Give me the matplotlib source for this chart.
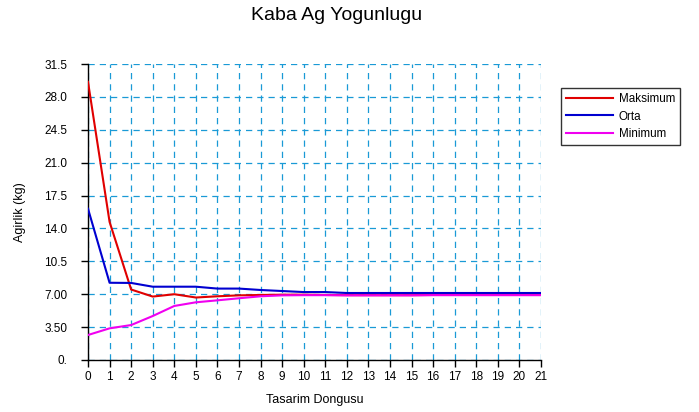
import matplotlib
matplotlib.use("Agg")
import matplotlib.pyplot as plt

cycles = list(range(22))
maksimum = [29.6, 14.7, 7.5, 6.75, 7.0, 6.65, 6.78, 6.88, 6.92, 6.95, 6.95, 6.92, 6.9, 6.9, 6.9, 6.9, 6.92, 6.92, 6.92, 6.92, 6.92, 6.92]
orta = [16.1, 8.22, 8.2, 7.8, 7.8, 7.8, 7.6, 7.6, 7.45, 7.34, 7.23, 7.23, 7.13, 7.13, 7.13, 7.13, 7.13, 7.13, 7.13, 7.13, 7.13, 7.13]
minimum = [2.66, 3.37, 3.72, 4.68, 5.75, 6.14, 6.35, 6.57, 6.78, 6.88, 6.9, 6.9, 6.88, 6.88, 6.88, 6.88, 6.9, 6.9, 6.9, 6.9, 6.9, 6.9]
yticks = [0, 3.5, 7.0, 10.5, 14.0, 17.5, 21.0, 24.5, 28.0, 31.5]
ytick_labels = ["0.", "3.50", "7.00", "10.5", "14.0", "17.5", "21.0", "24.5", "28.0", "31.5"]

plt.rcParams['font.family'] = ['Liberation Sans', 'DejaVu Sans']
W, H = 699, 412
fig = plt.figure(figsize=(W/100, H/100), dpi=100)
ax = fig.add_axes([88/W, 1-360/H, (541-88)/W, (360-64)/H])

ax.plot(cycles, maksimum, color='#e00000', lw=1.5, label='Maksimum', zorder=3)
ax.plot(cycles, orta, color='#0000d0', lw=1.5, label='Orta', zorder=3)
ax.plot(cycles, minimum, color='#f000f0', lw=1.5, label='Minimum', zorder=3)

ax.set_xlim(0, 21)
ax.set_ylim(0, 31.5)
ax.set_xticks(cycles)
ax.set_xticklabels([str(c) for c in cycles], fontsize=8.5)
ax.set_yticks(yticks)
ax.set_yticklabels(ytick_labels, fontsize=8.5)
ax.grid(True, color='#1a9ad6', linestyle=(0, (5, 4)), lw=0.9)
for s in ['top', 'right']:
    ax.spines[s].set_visible(False)
for s in ['left', 'bottom']:
    ax.spines[s].set_color('black')
    ax.spines[s].set_linewidth(1)
ax.tick_params(direction='out', length=5, width=1, colors='black')
ax.tick_params(axis='y', pad=10)
ax.tick_params(axis='x', pad=3)

ax.set_xlabel('Tasarim Dongusu', fontsize=9, labelpad=8)
ax.set_ylabel('Agirlik (kg)', fontsize=9, labelpad=13)
fig.text(337 / W, 1 - 15/H, 'Kaba Ag Yogunlugu', ha='center', va='center', fontsize=14)

leg = fig.legend(loc='upper left', bbox_to_anchor=(561/W, 1-88/H), fontsize=8.4,
                 frameon=True, fancybox=False, edgecolor='black', handlelength=4.0,
                 borderpad=0.45, labelspacing=0.45, handletextpad=0.5, borderaxespad=0)
leg.get_frame().set_linewidth(1)

fig.savefig('out.png', dpi=100)
